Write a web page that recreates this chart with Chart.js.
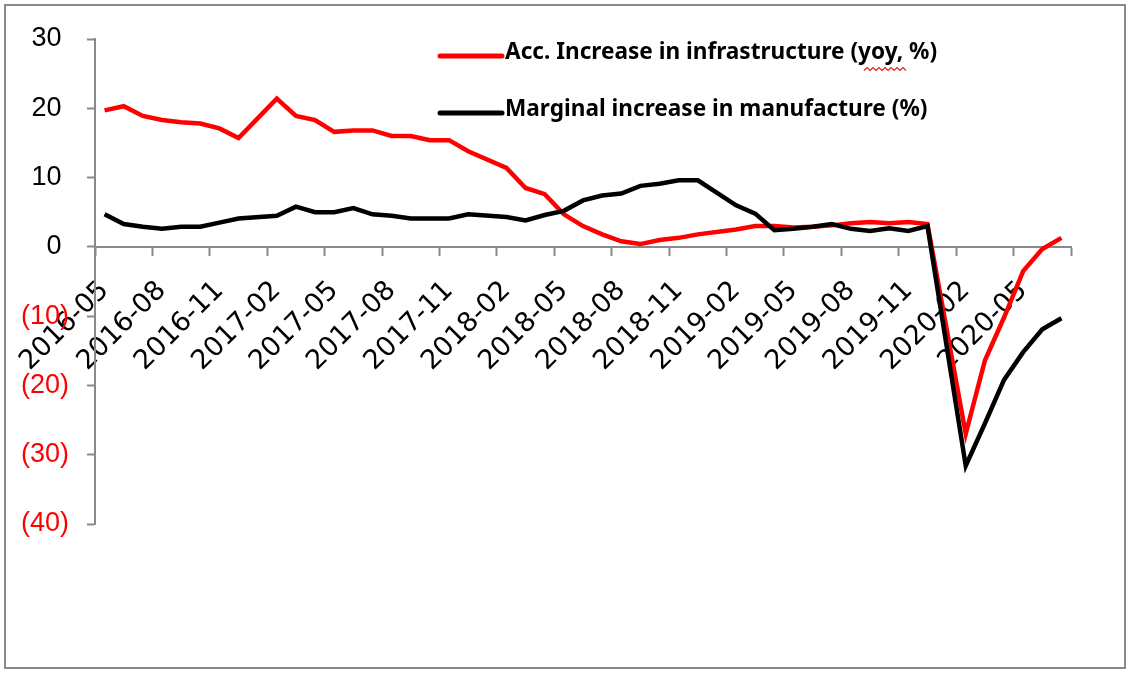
<!DOCTYPE html>
<html>
<head>
<meta charset="utf-8">
<script src="https://cdn.jsdelivr.net/npm/chart.js@4.4.0/dist/chart.umd.min.js"></script>
<style>
  html, body { margin: 0; padding: 0; background: #fff; }
  #wrap { width: 1132px; height: 676px; position: relative; }
</style>
</head>
<body>
<div id="wrap"><canvas id="investChart"></canvas></div>
<script>
// monthly categories, 2016-05 .. 2020-07 (January has no reading)
const months = [
  '2016-05','2016-06','2016-07','2016-08','2016-09','2016-10','2016-11','2016-12',
  '2017-01','2017-02','2017-03','2017-04','2017-05','2017-06','2017-07','2017-08',
  '2017-09','2017-10','2017-11','2017-12','2018-01','2018-02','2018-03','2018-04',
  '2018-05','2018-06','2018-07','2018-08','2018-09','2018-10','2018-11','2018-12',
  '2019-01','2019-02','2019-03','2019-04','2019-05','2019-06','2019-07','2019-08',
  '2019-09','2019-10','2019-11','2019-12','2020-01','2020-02','2020-03','2020-04',
  '2020-05','2020-06','2020-07'
];

const infraYoy = [
  19.7, 20.3, 18.9, 18.3, 18.0, 17.8, 17.1, 15.7,
  null, 21.4, 18.9, 18.3, 16.6, 16.8, 16.8, 16.0,
  16.0, 15.4, 15.4, 13.8, null, 11.4, 8.5, 7.6,
  4.7, 3.0, 1.8, 0.8, 0.4, 1.0, 1.3, 1.8,
  null, 2.5, 3.0, 3.0, 2.8, 2.9, 3.1, 3.4,
  3.6, 3.4, 3.6, 3.3, null, -27.0, -16.4, -10.2,
  -3.5, -0.3, 1.3
];

const manufMargin = [
  4.7, 3.3, 2.9, 2.6, 2.9, 2.9, 3.5, 4.1,
  null, 4.5, 5.8, 5.0, 5.0, 5.6, 4.7, 4.5,
  4.1, 4.1, 4.1, 4.7, null, 4.3, 3.8, 4.6,
  5.2, 6.7, 7.4, 7.7, 8.8, 9.1, 9.6, 9.6,
  null, 6.0, 4.8, 2.4, 2.6, 2.9, 3.3, 2.6,
  2.3, 2.7, 2.3, 3.0, null, -31.6, -25.5, -19.2,
  -15.2, -11.9, -10.3
];

const seriesNames = [
  'Acc. Increase in infrastructure (yoy, %)',
  'Marginal increase in manufacture (%)'
];

const yMin = -40, yMax = 30, yStep = 10;
const labelEvery = 3;

const axisGrey = '#898989';

// frame around the whole chart + legend drawn inside the plot
const chartFrame = {
  id: 'chartFrame',
  beforeDraw(chart) {
    const c = chart.ctx;
    c.save();
    c.fillStyle = '#fff';
    c.fillRect(0, 0, chart.width, chart.height);
    c.strokeStyle = axisGrey;
    c.lineWidth = 2;
    c.strokeRect(5, 5, 1120, 663);
    c.restore();
  },
  afterDatasetsDraw(chart) {
    const c = chart.ctx;
    const rows = [56, 113];
    c.save();
    chart.data.datasets.forEach((ds, i) => {
      const y = rows[i];
      c.strokeStyle = ds.borderColor;
      c.lineWidth = 5;
      c.lineCap = 'round';
      c.beginPath();
      c.moveTo(440, y);
      c.lineTo(502, y);
      c.stroke();
      c.fillStyle = '#000';
      c.font = 'bold 22.6px "Noto Sans"';
      c.textBaseline = 'middle';
      c.textAlign = 'left';
      c.fillText(ds.label, 505, y - 3);
    });
    // spell-check squiggle under "yoy"
    c.strokeStyle = '#e02020';
    c.lineWidth = 1.2;
    c.lineCap = 'butt';
    c.beginPath();
    for (let x = 864, k = 0; x <= 907; x += 3, k++) {
      const yy = 69 + (k % 2 ? -1.5 : 1.5);
      if (k === 0) c.moveTo(x, yy); else c.lineTo(x, yy);
    }
    c.stroke();
    c.restore();
  }
};

const ctx = document.getElementById('investChart').getContext('2d');

const investChart = new Chart(ctx, {
  type: 'line',
  data: {
    labels: months,
    datasets: [{
      label: seriesNames[0],
      data: infraYoy,
      borderColor: '#ff0000',
      borderWidth: 4.5,
      pointRadius: 0,
      tension: 0,
      spanGaps: true,
      order: 1
    }, {
      label: seriesNames[1],
      data: manufMargin,
      borderColor: '#000000',
      borderWidth: 4.5,
      pointRadius: 0,
      tension: 0,
      spanGaps: true,
      order: 0
    }]
  },
  options: {
    responsive: true,
    maintainAspectRatio: false,
    animation: false,
    layout: { padding: { top: 39, right: 61, bottom: 152, left: 0 } },
    plugins: {
      legend: { display: false },
      tooltip: { enabled: false }
    },
    scales: {
      x: {
        type: 'category',
        position: { y: 0 },
        offset: true,
        grid: {
          offset: true,
          drawOnChartArea: false,
          tickLength: 8,
          tickWidth: 2,
          tickColor: c => (c.index === undefined || c.index % labelEvery === 0) ? axisGrey : 'rgba(0,0,0,0)'
        },
        border: { color: axisGrey, width: 2 },
        ticks: {
          autoSkip: false,
          maxRotation: 45,
          minRotation: 45,
          padding: 20,
          color: '#000',
          font: { family: '"DejaVu Sans"', size: 27 },
          callback: function (val, i) {
            return i % labelEvery === 0 ? this.getLabelForValue(val) : '';
          }
        }
      },
      y: {
        min: yMin,
        max: yMax,
        grid: {
          drawOnChartArea: false,
          tickLength: 8,
          tickWidth: 2,
          tickColor: axisGrey
        },
        border: { color: axisGrey, width: 2 },
        afterFit: scale => { scale.width = 95; },
        ticks: {
          stepSize: yStep,
          padding: 18,
          color: c => c.tick.value < 0 ? '#ff0000' : '#000',
          font: { family: '"Liberation Sans", Arial', size: 27 },
          callback: v => v < 0 ? '(' + (-v) + ')' : v + ' '
        }
      }
    }
  },
  plugins: [chartFrame]
});
</script>
</body>
</html>
